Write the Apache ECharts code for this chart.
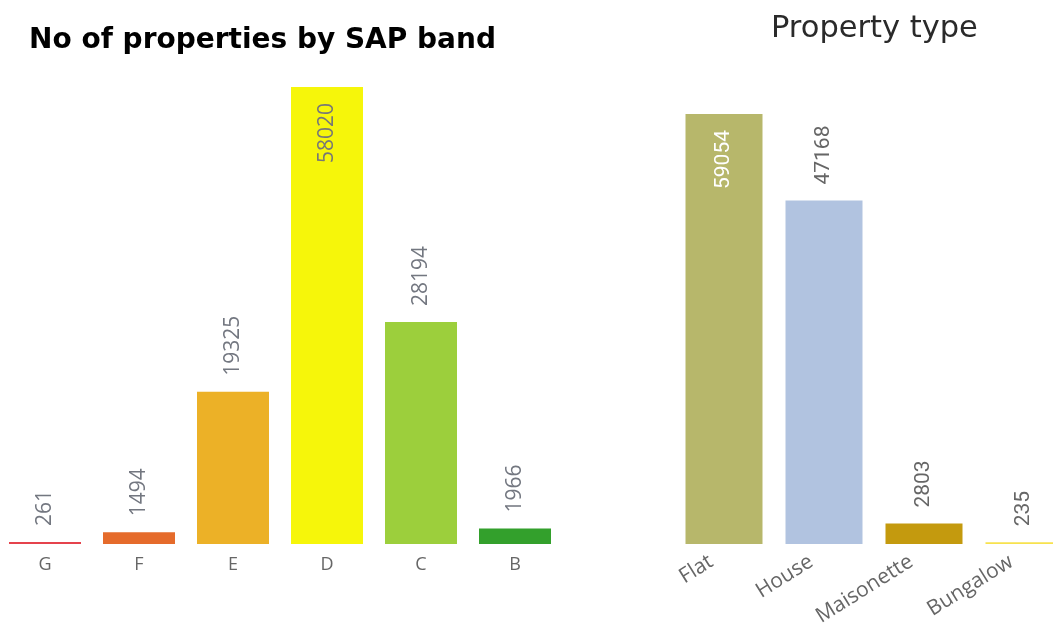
<!DOCTYPE html>
<html>
<head>
<meta charset="utf-8">
<script src="https://cdn.jsdelivr.net/npm/echarts@6/dist/echarts.min.js"></script>
<style>
html,body{margin:0;padding:0;background:#fff;}
#chart{width:1053px;height:628px;}
</style>
</head>
<body>
<div id="chart"></div>
<script>
// ---- data ----
const sapBands = ['G', 'F', 'E', 'D', 'C', 'B'];
const sapCounts = [261, 1494, 19325, 58020, 28194, 1966];
const sapColors = ['#E5434C', '#E56B2B', '#ECB127', '#F6F60A', '#9CCF3C', '#33A02C'];

const propTypes = ['Flat', 'House', 'Maisonette', 'Bungalow'];
const propCounts = [59054, 47168, 2803, 235];
const propColors = ['#B7B76B', '#B1C3E0', '#C49A0E', '#F7E24E'];

const leftTitle = 'No of properties by SAP band';
const rightTitle = 'Property type';

function buildData(values, colors, insideColor, outsideColor) {
  const maxV = Math.max.apply(null, values);
  return values.map((v, i) => {
    const inside = v === maxV;
    return {
      value: v,
      itemStyle: { color: colors[i] },
      label: inside ? {
        position: 'insideTop', align: 'right', verticalAlign: 'middle',
        distance: 16, color: insideColor
      } : {
        position: 'top', align: 'left', verticalAlign: 'middle',
        distance: 16, color: outsideColor
      }
    };
  });
}

const chart = echarts.init(document.getElementById('chart'), null, { renderer: 'canvas' });
chart.setOption({
  animation: false,
  backgroundColor: '#ffffff',
  title: [
    { text: leftTitle, left: 24, top: 22,
      textStyle: { fontFamily: 'DejaVu Sans', fontWeight: 'bold', fontSize: 28, color: '#000' } },
    { text: rightTitle, left: 766, top: 9,
      textStyle: { fontFamily: 'DejaVu Sans', fontWeight: 'normal', fontSize: 30.5, color: '#2a2a2a' } }
  ],
  grid: [
    { left: -2, width: 564, top: 87, height: 457, outerBoundsMode: 'none', containLabel: false },
    { left: 674, width: 400, top: 114, height: 430, outerBoundsMode: 'none', containLabel: false }
  ],
  xAxis: [
    { type: 'category', gridIndex: 0, data: sapBands,
      axisLine: { show: false }, axisTick: { show: false },
      axisLabel: { fontFamily: 'Open Sans', fontSize: 18, color: '#666', margin: 12 } },
    { type: 'category', gridIndex: 1, data: propTypes,
      axisLine: { show: false }, axisTick: { show: false },
      axisLabel: { fontFamily: 'Open Sans', fontSize: 21, color: '#666', margin: 8, rotate: 32,
        interval: 0, padding: [0, 15, 0, 0] } }
  ],
  yAxis: [
    { type: 'value', gridIndex: 0, min: 0, max: 'dataMax', show: false, splitLine: { show: false } },
    { type: 'value', gridIndex: 1, min: 0, max: 'dataMax', show: false, splitLine: { show: false } }
  ],
  series: [
    { type: 'bar', xAxisIndex: 0, yAxisIndex: 0, barWidth: 72,
      label: { show: true, rotate: 90, fontFamily: 'Open Sans', fontSize: 21 },
      data: buildData(sapCounts, sapColors, '#777', '#737780') },
    { type: 'bar', xAxisIndex: 1, yAxisIndex: 1, barWidth: 77,
      label: { show: true, rotate: 90, fontFamily: 'Roboto', fontSize: 21 },
      data: buildData(propCounts, propColors, '#ffffff', '#666') }
  ]
});
</script>
</body>
</html>
